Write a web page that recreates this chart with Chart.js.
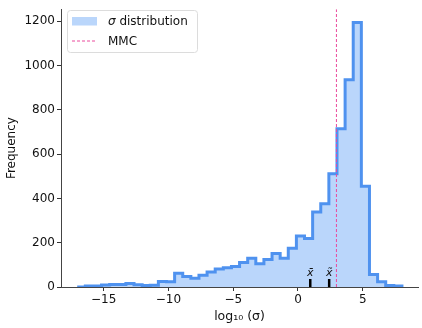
<!DOCTYPE html>
<html>
<head>
<meta charset="utf-8">
<script src="https://cdn.jsdelivr.net/npm/chart.js@4.4.1/dist/chart.umd.min.js"></script>
<style>
html, body { margin: 0; padding: 0; background: #fff; }
#wrap { width: 422px; height: 328px; }
</style>
</head>
<body>
<div id="wrap"><canvas id="histChart" width="422" height="328"></canvas></div>
<script>
// histogram of log10(sigma), 40 equal bins
const binStart = -17.05;
const binWidth = 0.627;
const counts = [4, 5, 9, 11, 11, 16, 10, 7, 8, 25,
                24, 62, 47, 39, 53, 68, 81, 87, 93, 111,
                130, 105, 124, 151, 130, 175, 230, 219, 339, 376,
                512, 715, 936, 1195, 455, 56, 24, 7, 4, 3];
const mmcValue = 2.97;
const meanValue = 0.95;
const medianValue = 2.41;
const markerHeight = 36;
const xTicks = [-15, -10, -5, 0, 5];
const yTicks = [0, 200, 400, 600, 800, 1000, 1200];
const xRange = [-18.3, 9.27];
const yMax = 1255;

const lineBlue = '#4f92ef';
const fillBlue = '#bad6fb';
const pink = '#ea4a9c';

//step outline: (edge_i, count_{i-1}) with stepped 'before'
function stepPoints(){
    const pts = [{x: binStart, y: 0}];
    for (let i = 0; i < counts.length; i++) {
        pts.push({x: binStart + (i + 1) * binWidth, y: counts[i]});
    }
    pts.push({x: binStart + counts.length * binWidth, y: 0});
    return pts;
}

Chart.defaults.font.family = 'DejaVu Sans';
Chart.defaults.font.size = 12;
Chart.defaults.color = '#111';

//legend box + x-bar labels
const extras = {
    id: 'extras',
    afterDatasetsDraw(chart){
        const ctx = chart.ctx;
        const xs = chart.scales.x, ys = chart.scales.y;
        ctx.save();
        ctx.fillStyle = '#111';
        ctx.font = 'italic 11px DejaVu Sans';
        ctx.textAlign = 'center';
        ctx.textBaseline = 'alphabetic';
        ctx.fillText('x\u0304', xs.getPixelForValue(meanValue), ys.getPixelForValue(markerHeight) - 3);
        ctx.fillText('x\u0303', xs.getPixelForValue(medianValue), ys.getPixelForValue(markerHeight) - 3);

        // legend
        const lx = 67.5, ly = 10.5, lw = 130, lh = 42;
        ctx.beginPath();
        ctx.roundRect(lx, ly, lw, lh, 3);
        ctx.fillStyle = 'rgba(255,255,255,0.85)';
        ctx.fill();
        ctx.strokeStyle = '#dcdcdc';
        ctx.lineWidth = 1;
        ctx.stroke();

        ctx.fillStyle = fillBlue;
        ctx.fillRect(72, 17, 25, 8.5);
        ctx.beginPath();
        ctx.setLineDash([3, 2]);
        ctx.strokeStyle = pink;
        ctx.lineWidth = 1;
        ctx.moveTo(72, 41);
        ctx.lineTo(97, 41);
        ctx.stroke();
        ctx.setLineDash([]);

        ctx.fillStyle = '#111';
        ctx.textAlign = 'left';
        ctx.textBaseline = 'middle';
        ctx.font = 'italic 12px DejaVu Sans';
        ctx.fillText('\u03c3', 108, 21.5);
        const sw = ctx.measureText('\u03c3 ').width;
        ctx.font = '12px DejaVu Sans';
        ctx.fillText('distribution', 108 + sw, 21.5);
        ctx.fillText('MMC', 108, 41.5);
        ctx.restore();
    }
};

const ctx = document.getElementById('histChart').getContext('2d');
const histChart = new Chart(ctx, {
    type: 'line',
    data: {
        datasets: [
            {
                label: '\u03c3 distribution',
                data: stepPoints(),
                stepped: 'before',
                fill: 'origin',
                backgroundColor: fillBlue,
                borderColor: lineBlue,
                borderWidth: 3,
                borderJoinStyle: 'miter',
                pointRadius: 0,
                order: 3
            },
            {
                label: 'MMC',
                data: [{x: mmcValue, y: 0}, {x: mmcValue, y: yMax}],
                borderColor: pink,
                borderWidth: 1,
                borderDash: [3, 2],
                pointRadius: 0,
                order: 1
            },
            {
                label: 'mean',
                data: [{x: meanValue, y: 0}, {x: meanValue, y: markerHeight}],
                borderColor: '#000',
                borderWidth: 2.5,
                borderCapStyle: 'butt',
                pointRadius: 0,
                order: 2
            },
            {
                label: 'median',
                data: [{x: medianValue, y: 0}, {x: medianValue, y: markerHeight}],
                borderColor: '#000',
                borderWidth: 2.5,
                borderCapStyle: 'butt',
                pointRadius: 0,
                order: 2
            }
        ]
    },
    options: {
        responsive: false,
        animation: false,
        layout: { padding: { top: 5, right: 4, left: 0, bottom: 0 } },
        plugins: {
            legend: { display: false },
            tooltip: { enabled: false }
        },
        scales: {
            x: {
                type: 'linear',
                min: xRange[0],
                max: xRange[1],
                afterBuildTicks: s => { s.ticks = xTicks.map(v => ({value: v})); },
                afterFit: s => { s.height = 41; },
                grid: { drawOnChartArea: false, drawTicks: true, tickLength: 4, color: '#333' },
                border: { display: true, color: '#444', width: 1 },
                ticks: {
                    padding: 2,
                    font: { size: 12 },
                    callback: v => (v < 0 ? '\u2212' + Math.abs(v) : String(v))
                },
                title: { display: true, text: 'log\u2081\u2080 (\u03c3)', font: { size: 12.5 }, padding: { top: 0, bottom: 4 } }
            },
            y: {
                type: 'linear',
                min: 0,
                max: yMax,
                afterBuildTicks: s => { s.ticks = yTicks.map(v => ({value: v})); },
                afterFit: s => { s.width = 61; },
                grid: { drawOnChartArea: false, drawTicks: true, tickLength: 4, color: '#333' },
                border: { display: true, color: '#444', width: 1 },
                ticks: { padding: 2, font: { size: 12 }, callback: v => String(v) },
                title: { display: true, text: 'Frequency', font: { size: 12 }, padding: { top: 5, bottom: 0 } }
            }
        }
    },
    plugins: [extras]
});
</script>
</body>
</html>
